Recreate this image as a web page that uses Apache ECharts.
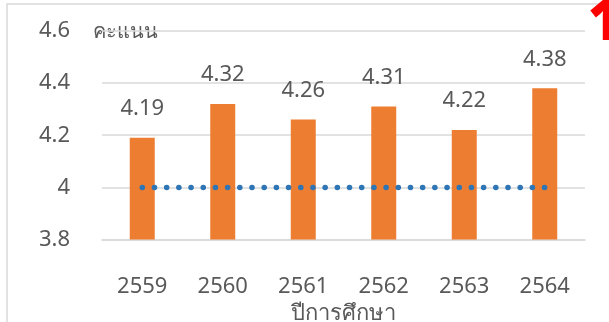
<!DOCTYPE html>
<html>
<head>
<meta charset="utf-8">
<script src="https://cdn.jsdelivr.net/npm/echarts@6/dist/echarts.min.js"></script>
<style>
  html, body { margin: 0; padding: 0; background: #fff; }
  #chart { width: 609px; height: 322px; }
</style>
</head>
<body>
<div id="chart"></div>
<script>
// Academic years and mean scores
const years = ['2559', '2560', '2561', '2562', '2563', '2564'];
const scores = [4.19, 4.32, 4.26, 4.31, 4.22, 4.38];
// Target level shown as a dotted reference line
const target = [4, 4, 4, 4, 4, 4];
const yTicks = { min: 3.8, max: 4.6, step: 0.2 };
const yAxisTitle = 'คะแนน';
const xAxisTitle = 'ปีการศึกษา';

const FONT = '"Noto Sans", "Open Sans", sans-serif';
const GRAY = '#595959';

const chart = echarts.init(document.getElementById('chart'), null, { renderer: 'canvas' });
chart.setOption({
  animation: false,
  backgroundColor: '#ffffff',
  grid: { left: 102, right: 24, top: 31, bottom: 82.5, outerBoundsMode: 'none', containLabel: false },
  xAxis: {
    type: 'category',
    data: years,
    name: xAxisTitle,
    nameLocation: 'middle',
    nameGap: 58,
    nameTextStyle: { fontFamily: FONT, fontSize: 22, color: GRAY },
    axisLine: { lineStyle: { color: '#d9d9d9', width: 1.5 } },
    axisTick: { show: false },
    axisLabel: { fontFamily: FONT, fontSize: 22, color: GRAY, margin: 36 }
  },
  yAxis: {
    type: 'value',
    min: yTicks.min,
    max: yTicks.max,
    interval: yTicks.step,
    axisLine: { show: false },
    axisTick: { show: false },
    axisLabel: { fontFamily: FONT, fontSize: 22, color: GRAY, margin: 32 },
    splitLine: { lineStyle: { color: '#d9d9d9', width: 1.5 } }
  },
  series: [
    {
      type: 'bar',
      data: scores,
      barWidth: 25,
      itemStyle: { color: '#ED7D31' },
      label: {
        show: true,
        position: 'top',
        distance: 18,
        fontFamily: FONT,
        fontSize: 22,
        color: GRAY
      }
    },
    {
      type: 'line',
      data: target,
      symbol: 'none',
      z: 5,
      lineStyle: { color: '#2E75B6', width: 5.5, type: [0.1, 12.09], cap: 'round' }
    }
  ],
  graphic: [
    // chart area frame
    {
      type: 'rect',
      shape: { x: 7, y: 4, width: 700, height: 400 },
      style: { fill: null, stroke: '#d9d9d9', lineWidth: 1.5 },
      silent: true
    },
    {
      type: 'text',
      left: 93,
      top: 22,
      style: { text: yAxisTitle, font: '20px ' + FONT, fill: GRAY }
    },
    {
      type: 'text',
      left: 588,
      top: -4,
      style: { text: '1', font: '800 56px "Open Sans", sans-serif', fill: '#ff0000' }
    }
  ]
});
</script>
</body>
</html>
